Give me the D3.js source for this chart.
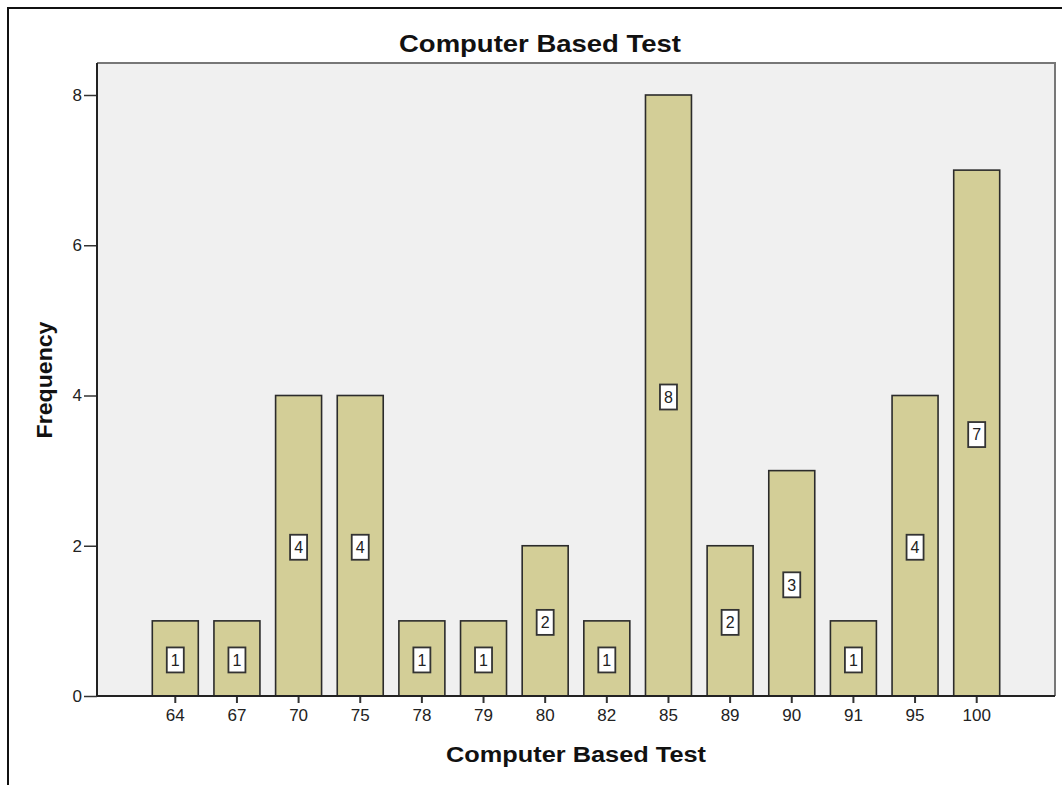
<!DOCTYPE html>
<html>
<head>
<meta charset="utf-8">
<script src="https://cdn.jsdelivr.net/npm/d3@7"></script>
<style>
  html, body { margin: 0; padding: 0; background: #fff; }
  svg { display: block; font-family: "Liberation Sans", Arial, sans-serif; }
</style>
</head>
<body>
<svg id="chart" width="1062" height="785"></svg>
<script>
// Score categories and how many students got each score
const scores = ["64", "67", "70", "75", "78", "79", "80", "82", "85", "89", "90", "91", "95", "100"];
const frequencies = [1, 1, 4, 4, 1, 1, 2, 1, 8, 2, 3, 1, 4, 7];
const yTicks = [0, 2, 4, 6, 8];
const chartTitle = "Computer Based Test";
const xTitle = "Computer Based Test";
const yTitle = "Frequency";

const svg = d3.select("#chart");
const plot = { left: 97, top: 63, right: 1055, bottom: 696 };

// outer frame (runs off the right and bottom edges)
svg.append("path")
  .attr("d", "M8,785 L8,8 L1062,8")
  .attr("fill", "none")
  .attr("stroke", "#111")
  .attr("stroke-width", 2);

// plot background
svg.append("rect")
  .attr("x", plot.left).attr("y", plot.top)
  .attr("width", plot.right - plot.left).attr("height", plot.bottom - plot.top)
  .attr("fill", "#f0f0f0");

// top and right plot border
svg.append("path")
  .attr("d", `M${plot.left},${plot.top} L${plot.right},${plot.top} L${plot.right},${plot.bottom}`)
  .attr("fill", "none").attr("stroke", "#777").attr("stroke-width", 2);

const x = d3.scaleBand()
  .domain(scores)
  .range([plot.left, plot.right])
  .paddingInner(0.254)
  .paddingOuter(0.897);

const y = d3.scaleLinear()
  .domain([0, 8])
  .range([696, 95]);

const data = scores.map((s, i) => ({ score: s, freq: frequencies[i] }));

// bars
svg.append("g").selectAll("rect")
  .data(data)
  .join("rect")
  .attr("x", d => x(d.score))
  .attr("y", d => y(d.freq))
  .attr("width", x.bandwidth())
  .attr("height", d => y(0) - y(d.freq))
  .attr("fill", "#d3ce97")
  .attr("stroke", "#2b2b2b")
  .attr("stroke-width", 1.6);

// value labels in white boxes at half bar height
const lab = svg.append("g").selectAll("g")
  .data(data)
  .join("g")
  .attr("transform", d => `translate(${x(d.score) + x.bandwidth() / 2},${y(d.freq / 2) + 1.5})`);

lab.append("rect")
  .attr("x", -8.5).attr("y", -12.5)
  .attr("width", 17).attr("height", 25)
  .attr("fill", "#fff")
  .attr("stroke", "#333")
  .attr("stroke-width", 1.8);

lab.append("text")
  .attr("text-anchor", "middle")
  .attr("dy", "0.36em")
  .attr("font-size", 16)
  .attr("fill", "#222")
  .text(d => d.freq);

// x axis
const xAxis = svg.append("g")
  .attr("transform", `translate(0,${plot.bottom})`)
  .call(d3.axisBottom(x).tickSize(7).tickSizeOuter(0).tickPadding(6));
xAxis.select(".domain").remove();
xAxis.selectAll(".tick line").attr("stroke", "#333").attr("stroke-width", 2);
xAxis.selectAll(".tick text").attr("font-size", 17).attr("fill", "#222")
  .attr("font-family", "Liberation Sans, Arial, sans-serif");
svg.append("line")
  .attr("x1", plot.left).attr("x2", plot.right)
  .attr("y1", plot.bottom).attr("y2", plot.bottom)
  .attr("stroke", "#222").attr("stroke-width", 2);

// y axis
const yAxis = svg.append("g")
  .attr("transform", `translate(${plot.left},0)`)
  .call(d3.axisLeft(y).tickValues(yTicks).tickSize(13).tickPadding(2).tickFormat(d3.format("d")));
yAxis.select(".domain").remove();
yAxis.selectAll(".tick line").attr("stroke", "#333").attr("stroke-width", 1.5);
yAxis.selectAll(".tick text").attr("font-size", 17).attr("fill", "#222")
  .attr("font-family", "Liberation Sans, Arial, sans-serif");
svg.append("line")
  .attr("x1", plot.left).attr("x2", plot.left)
  .attr("y1", plot.top).attr("y2", plot.bottom)
  .attr("stroke", "#222").attr("stroke-width", 2);

// titles
svg.append("text")
  .attr("x", 540).attr("y", 52)
  .attr("text-anchor", "middle")
  .attr("font-size", 24).attr("font-weight", "bold").attr("fill", "#111")
  .attr("textLength", 282).attr("lengthAdjust", "spacingAndGlyphs")
  .text(chartTitle);

svg.append("text")
  .attr("x", 576).attr("y", 762)
  .attr("text-anchor", "middle")
  .attr("font-size", 22).attr("font-weight", "bold").attr("fill", "#111")
  .attr("textLength", 260).attr("lengthAdjust", "spacingAndGlyphs")
  .text(xTitle);

svg.append("text")
  .attr("transform", "translate(52,380) rotate(-90)")
  .attr("text-anchor", "middle")
  .attr("font-size", 22).attr("font-weight", "bold").attr("fill", "#111")
  .attr("textLength", 117).attr("lengthAdjust", "spacingAndGlyphs")
  .text(yTitle);
</script>
</body>
</html>
